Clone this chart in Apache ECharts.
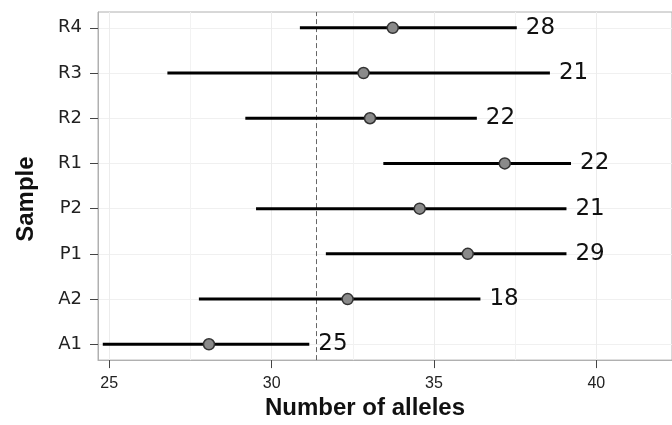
<!DOCTYPE html>
<html>
<head>
<meta charset="utf-8">
<script src="https://cdn.jsdelivr.net/npm/echarts@6/dist/echarts.min.js"></script>
<style>
html,body{margin:0;padding:0;background:#fff;}
#chart{width:672px;height:425px;}
</style>
</head>
<body>
<div id="chart"></div>
<script>
// Data (bottom to top)
var samples = ['A1', 'A2', 'P1', 'P2', 'R1', 'R2', 'R3', 'R4'];
var means   = [28.07, 32.34, 36.04, 34.56, 37.18, 33.03, 32.83, 33.73];
var lower   = [24.80, 27.76, 31.67, 29.52, 33.44, 29.19, 26.79, 30.87];
var upper   = [31.16, 36.43, 39.08, 39.08, 39.22, 36.32, 38.57, 37.55];
var counts  = [25, 18, 29, 21, 22, 22, 21, 28];
var refLine = 31.38;
var xTicks = [25, 30, 35, 40];
var xMinorGrid = [27.5, 32.5, 37.5];

var barData = samples.map(function (s, i) { return [lower[i], upper[i], i + 1, counts[i]]; });
var pointData = samples.map(function (s, i) { return [means[i], i + 1]; });
var yPos = samples.map(function (s, i) { return i + 1; });

var chart = echarts.init(document.getElementById('chart'));
chart.setOption({
  animation: false,
  backgroundColor: '#ffffff',
  grid: { left: 98, right: -2, top: 12, bottom: 59, show: true, borderColor: '#b0b0b0', borderWidth: 1 },
  xAxis: {
    type: 'value', min: 24.653, max: 42.33,
    name: 'Number of alleles', nameLocation: 'middle', nameGap: 32,
    nameTextStyle: { fontFamily: 'Liberation Sans', fontWeight: 'bold', fontSize: 24, color: '#111', padding: [0, 40, 0, 0] },
    axisLine: { show: true, lineStyle: { color: '#b0b0b0' } },
    axisTick: { show: true, length: 8, customValues: xTicks, lineStyle: { color: '#444' } },
    axisLabel: { customValues: xTicks, fontFamily: 'Liberation Sans', fontSize: 16, color: '#222', margin: 15 },
    splitLine: { show: true, lineStyle: { color: '#ececec' } }
  },
  yAxis: {
    type: 'value', min: 0.65, max: 8.35,
    name: 'Sample', nameLocation: 'middle', nameGap: 60, nameRotate: 90,
    nameTextStyle: { fontFamily: 'Liberation Sans', fontWeight: 'bold', fontSize: 24, color: '#111', padding: [0, 26, 0, 0] },
    axisLine: { show: true, lineStyle: { color: '#b0b0b0' } },
    axisTick: { show: true, length: 8, customValues: yPos, lineStyle: { color: '#444' } },
    axisLabel: {
      customValues: yPos, fontFamily: 'DejaVu Sans', fontSize: 18, color: '#222', margin: 16,
      formatter: function (v) { return samples[Math.round(v) - 1] || ''; }
    },
    splitLine: { show: true, lineStyle: { color: '#f0f0f0' } }
  },
  series: [
    {
      type: 'scatter',
      data: [],
      z: 1,
      silent: true,
      markLine: {
        z: 1,
        silent: true, symbol: 'none', label: { show: false },
        data: xMinorGrid.map(function (v) { return { xAxis: v, lineStyle: { color: '#f2f2f2', type: 'solid', width: 1 } }; })
          .concat([{ xAxis: refLine, lineStyle: { color: '#666', type: [5, 3], width: 1 } }])
      }
    },
    {
      type: 'custom',
      data: barData,
      z: 2,
      renderItem: function (params, api) {
        var p1 = api.coord([api.value(0), api.value(2)]);
        var p2 = api.coord([api.value(1), api.value(2)]);
        return {
          type: 'group',
          children: [
            { type: 'line', shape: { x1: p1[0], y1: p1[1], x2: p2[0], y2: p2[1] }, style: { stroke: '#000', lineWidth: 3 } },
            { type: 'text', x: p2[0] + 9, y: p2[1], style: { text: String(api.value(3)), fontFamily: 'DejaVu Sans', fontSize: 23, fill: '#111', textVerticalAlign: 'middle', textAlign: 'left' } }
          ]
        };
      }
    },
    {
      type: 'scatter',
      data: pointData,
      z: 3,
      symbol: 'circle',
      symbolSize: 11,
      itemStyle: { color: '#8a8a8a', borderColor: '#333', borderWidth: 1.5, opacity: 1 }
    }
  ]
});
</script>
</body>
</html>
